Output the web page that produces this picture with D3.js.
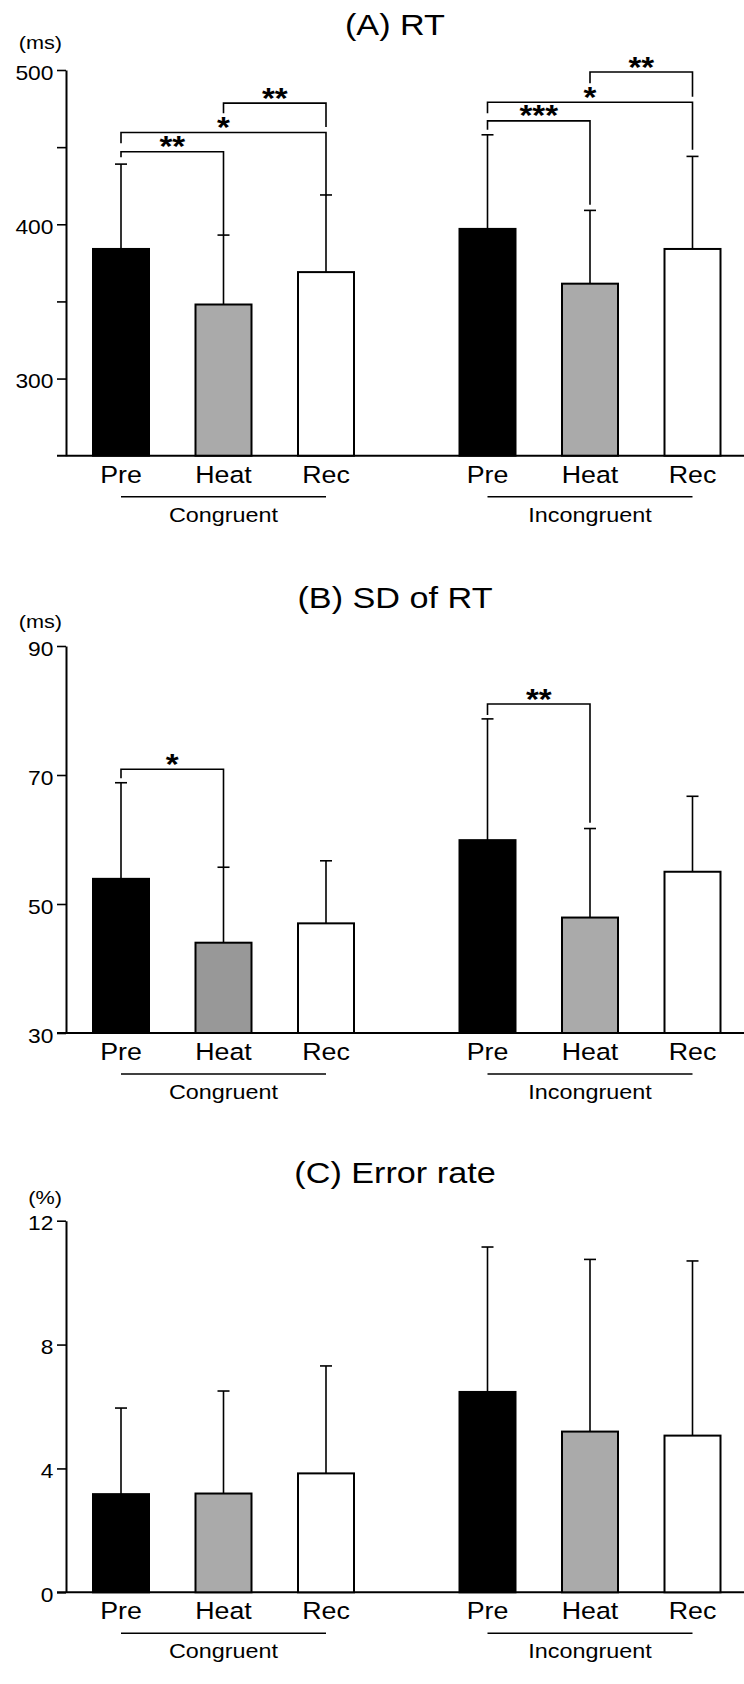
<!DOCTYPE html>
<html>
<head>
<meta charset="utf-8">
<script src="https://cdn.jsdelivr.net/npm/d3@7"></script>
<style>
  html, body { margin: 0; padding: 0; background: #fff; }
  svg { display: block; font-family: "Liberation Sans", Arial, sans-serif; }
</style>
</head>
<body>
<svg id="chart" width="744" height="1684"></svg>
<script>
// ── Data ──────────────────────────────────────────────────────────────────────
const conditions = ["Pre", "Heat", "Rec"];
const groups = ["Congruent", "Incongruent"];

// (A) RT, ms  [congruent, incongruent]
const rtMean = [[384, 348, 369], [397, 361.5, 384]];
const rtSD   = [[55, 45, 50], [61, 47.5, 60]];
const rtTicks = [300, 350, 400, 450, 500];
const rtSig = [
	{ g: 0, from: 0, to: 1, y: 447,   y1: 443.5, y2: 392.7, label: "**" },
	{ g: 0, from: 0, to: 2, y: 459.5, y1: 452.6, y2: 418.6, label: "*" },
	{ g: 0, from: 1, to: 2, y: 478.5, y1: 472,   y2: 463,   label: "**" },
	{ g: 1, from: 0, to: 1, y: 467,   y1: 461.2, y2: 412.7, label: "***" },
	{ g: 1, from: 0, to: 2, y: 479.1, y1: 472,   y2: 448.3, label: "*" },
	{ g: 1, from: 1, to: 2, y: 498.7, y1: 491.4, y2: 482.7, label: "**" }
];

// (B) SD of RT, ms
const sdMean = [[53.9, 44, 47], [59.9, 47.9, 55]];
const sdSD   = [[14.9, 11.7, 9.7], [18.8, 13.8, 11.7]];
const sdTicks = [30, 50, 70, 90];
const sdSig = [
	{ g: 0, from: 0, to: 1, y: 70.9, y1: 69.5, y2: 55.7, label: "*" },
	{ g: 1, from: 0, to: 1, y: 81,   y1: 79.3, y2: 62.6, label: "**" }
];

// (C) Error rate, %
const errMean = [[3.17, 3.19, 3.84], [6.47, 5.19, 5.06]];
const errSD   = [[2.78, 3.31, 3.47], [4.68, 5.56, 5.64]];
const errTicks = [0, 4, 8, 12];
const errSig = [];

// ── Layout ────────────────────────────────────────────────────────────────────
const STRETCH = 1.14;   // the source type is a bit wide
const AXIS_X = 66;
const BAR_W = 56;

const panels = [
	{ title: "(A) RT", unit: "(ms)", mean: rtMean, sd: rtSD, sig: rtSig, ticks: rtTicks,
	  fmt: d => d % 100 === 0 ? d : "", domain: [250, 500], range: [455.7, 70],
	  titleY: 35, unitY: 49, heatFill: ["#aaaaaa", "#aaaaaa"] },
	{ title: "(B) SD of RT", unit: "(ms)", mean: sdMean, sd: sdSD, sig: sdSig, ticks: sdTicks,
	  fmt: d => d, domain: [30, 90], range: [1033, 646],
	  titleY: 608, unitY: 628, heatFill: ["#989898", "#aaaaaa"] },
	{ title: "(C) Error rate", unit: "(%)", mean: errMean, sd: errSD, sig: errSig, ticks: errTicks,
	  fmt: d => d, domain: [0, 12], range: [1592.3, 1220.7],
	  titleY: 1183, unitY: 1204, heatFill: ["#aaaaaa", "#aaaaaa"] }
];

const svg = d3.select("#chart");

const xGroup = d3.scalePoint().domain(groups).range([121, 487.5]);
const xCond  = d3.scalePoint().domain(conditions).range([0, 205]);
const cx = (g, c) => xGroup(groups[g]) + xCond(conditions[c]);

function label(sel, x, y, s, size, anchor, weight) {
	return sel.append("text")
		.attr("transform", `translate(${x},${y}) scale(${STRETCH},1)`)
		.attr("text-anchor", anchor || "middle")
		.style("font-size", size + "px")
		.style("font-weight", weight || "normal")
		.attr("fill", "#000")
		.text(s);
}

panels.forEach(p => {
	const g = svg.append("g");
	const y = d3.scaleLinear().domain(p.domain).range(p.range);
	const y0 = p.range[0];

	// title + unit
	label(g, 395, p.titleY, p.title, 30);
	label(g, 62, p.unitY, p.unit, 19, "end");

	// y axis
	const ax = g.append("g")
		.attr("transform", `translate(${AXIS_X},0)`)
		.call(d3.axisLeft(y).tickValues(p.ticks).tickFormat(p.fmt).tickSize(9).tickSizeOuter(0).tickPadding(2));
	ax.select(".domain").attr("stroke-width", 2);
	ax.selectAll(".tick line").attr("stroke-width", 1.6);
	ax.selectAll(".tick text")
		.attr("transform", `scale(${STRETCH},1)`)
		.attr("dy", "0.45em")
		.style("font-size", "20px")
		.style("font-family", "'Liberation Sans', Arial, sans-serif")
		.attr("fill", "#000");

	// x baseline
	g.append("line")
		.attr("x1", AXIS_X - 9).attr("x2", 744)
		.attr("y1", y0).attr("y2", y0)
		.attr("stroke", "#000").attr("stroke-width", 2);

	const fills = ["#000000", null, "#ffffff"];

	p.mean.forEach((row, gi) => {
		row.forEach((m, ci) => {
			const x = cx(gi, ci);
			const top = y(m);
			const errTop = y(m + p.sd[gi][ci]);

			// error bar
			g.append("line")
				.attr("x1", x).attr("x2", x).attr("y1", top).attr("y2", errTop)
				.attr("stroke", "#000").attr("stroke-width", 1.6);
			g.append("line")
				.attr("x1", x - 6).attr("x2", x + 6).attr("y1", errTop).attr("y2", errTop)
				.attr("stroke", "#000").attr("stroke-width", 1.6);

			g.append("rect")
				.attr("x", x - BAR_W / 2)
				.attr("y", top)
				.attr("width", BAR_W)
				.attr("height", y0 - top)
				.attr("fill", ci === 1 ? p.heatFill[gi] : fills[ci])
				.attr("stroke", "#000")
				.attr("stroke-width", 2);

			label(g, x, y0 + 27, conditions[ci], 23.5);
		});

		// group underline + name
		const gx = xGroup(groups[gi]);
		g.append("line")
			.attr("x1", gx).attr("x2", gx + 205)
			.attr("y1", y0 + 41).attr("y2", y0 + 41)
			.attr("stroke", "#000").attr("stroke-width", 1.6);
		label(g, gx + 102.5, y0 + 66, groups[gi], 20.5);
	});

	// significance brackets
	p.sig.forEach(s => {
		const xa = cx(s.g, s.from), xb = cx(s.g, s.to);
		const yl = y(s.y);
		g.append("path")
			.attr("d", `M${xa},${y(s.y1)}V${yl}H${xb}V${y(s.y2)}`)
			.attr("fill", "none")
			.attr("stroke", "#000")
			.attr("stroke-width", 1.6);
		label(g, (xa + xb) / 2, yl + 4.5, s.label, 29, "middle", "bold");
	});
});
</script>
</body>
</html>
